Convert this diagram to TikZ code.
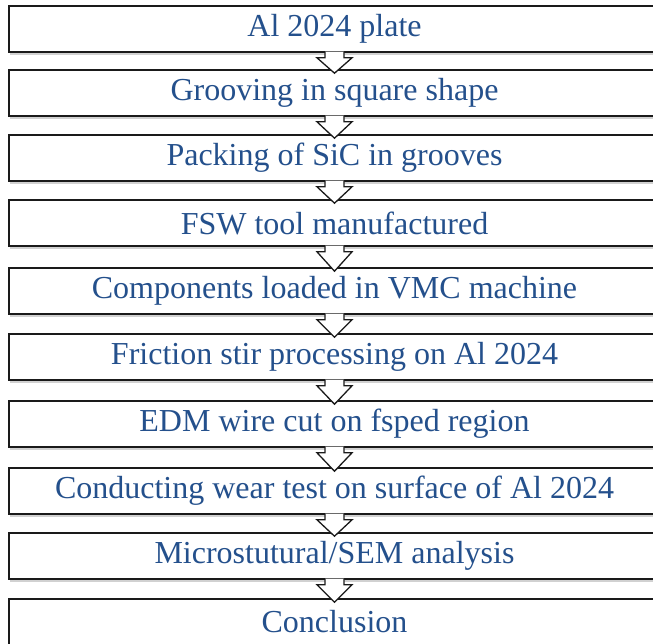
\documentclass[tikz,border=0pt]{standalone}
\usepackage{fontspec}
\setmainfont{Liberation Serif}
\usetikzlibrary{calc,shadows}
\definecolor{textblau}{HTML}{24508C}
\definecolor{rand}{HTML}{1A1A1A}
\tikzset{
  stufe/.style={draw=rand,fill=white,line width=1.6pt,minimum width=651pt,minimum height=46pt,
    inner sep=0pt,text=textblau,font=\fontsize{32}{38}\selectfont,
    drop shadow={shadow xshift=1pt,shadow yshift=-3pt,opacity=0.18,fill=black}},
  pfeil/.style={draw=rand,fill=white,line width=1.3pt,line join=miter},
}
% hohler Blockpfeil von Kasten #1 nach Kasten #2
\newcommand{\blockpfeil}[2]{%
  \filldraw[pfeil] ($(#1.south)+(-9.5,-1.2)$) -- ($(#1.south)+(-9.5,5)$)
    -- ($(#1.south)+(-17.5,5)$) -- ($(#2.north)+(0,4)$)
    -- ($(#1.south)+(17.5,5)$) -- ($(#1.south)+(9.5,5)$)
    -- ($(#1.south)+(9.5,-1.2)$);}

\begin{document}
\begin{tikzpicture}[x=1pt,y=-1pt]
  \useasboundingbox (0,0) rectangle (653,643);
  % ===== Kaesten =====
  \node[stufe] (s1) at (334.5,29) {Al 2024 plate};
  \node[stufe] (s2) at (334.5,93) {Grooving in square shape};
  \node[stufe] (s3) at (334.5,158) {Packing of SiC in grooves};
  \node[stufe] (s4) at (334.5,223) {FSW tool manufactured};
  \node[stufe] (s5) at (334.5,291) {Components loaded in VMC machine};
  \node[stufe] (s6) at (334.5,357) {Friction stir processing on Al 2024};
  \node[stufe] (s7) at (334.5,424) {EDM wire cut on fsped region};
  \node[stufe] (s8) at (334.5,491) {Conducting wear test on surface of Al 2024};
  \node[stufe] (s9) at (334.5,556) {Microstutural/SEM analysis};
  \node[stufe] (s10) at (334.5,622) {Conclusion};
  % ===== Pfeile =====
  \foreach \a/\b in {s1/s2,s2/s3,s3/s4,s4/s5,s5/s6,s6/s7,s7/s8,s8/s9,s9/s10}
    {\blockpfeil{\a}{\b}}
\end{tikzpicture}
\end{document}
